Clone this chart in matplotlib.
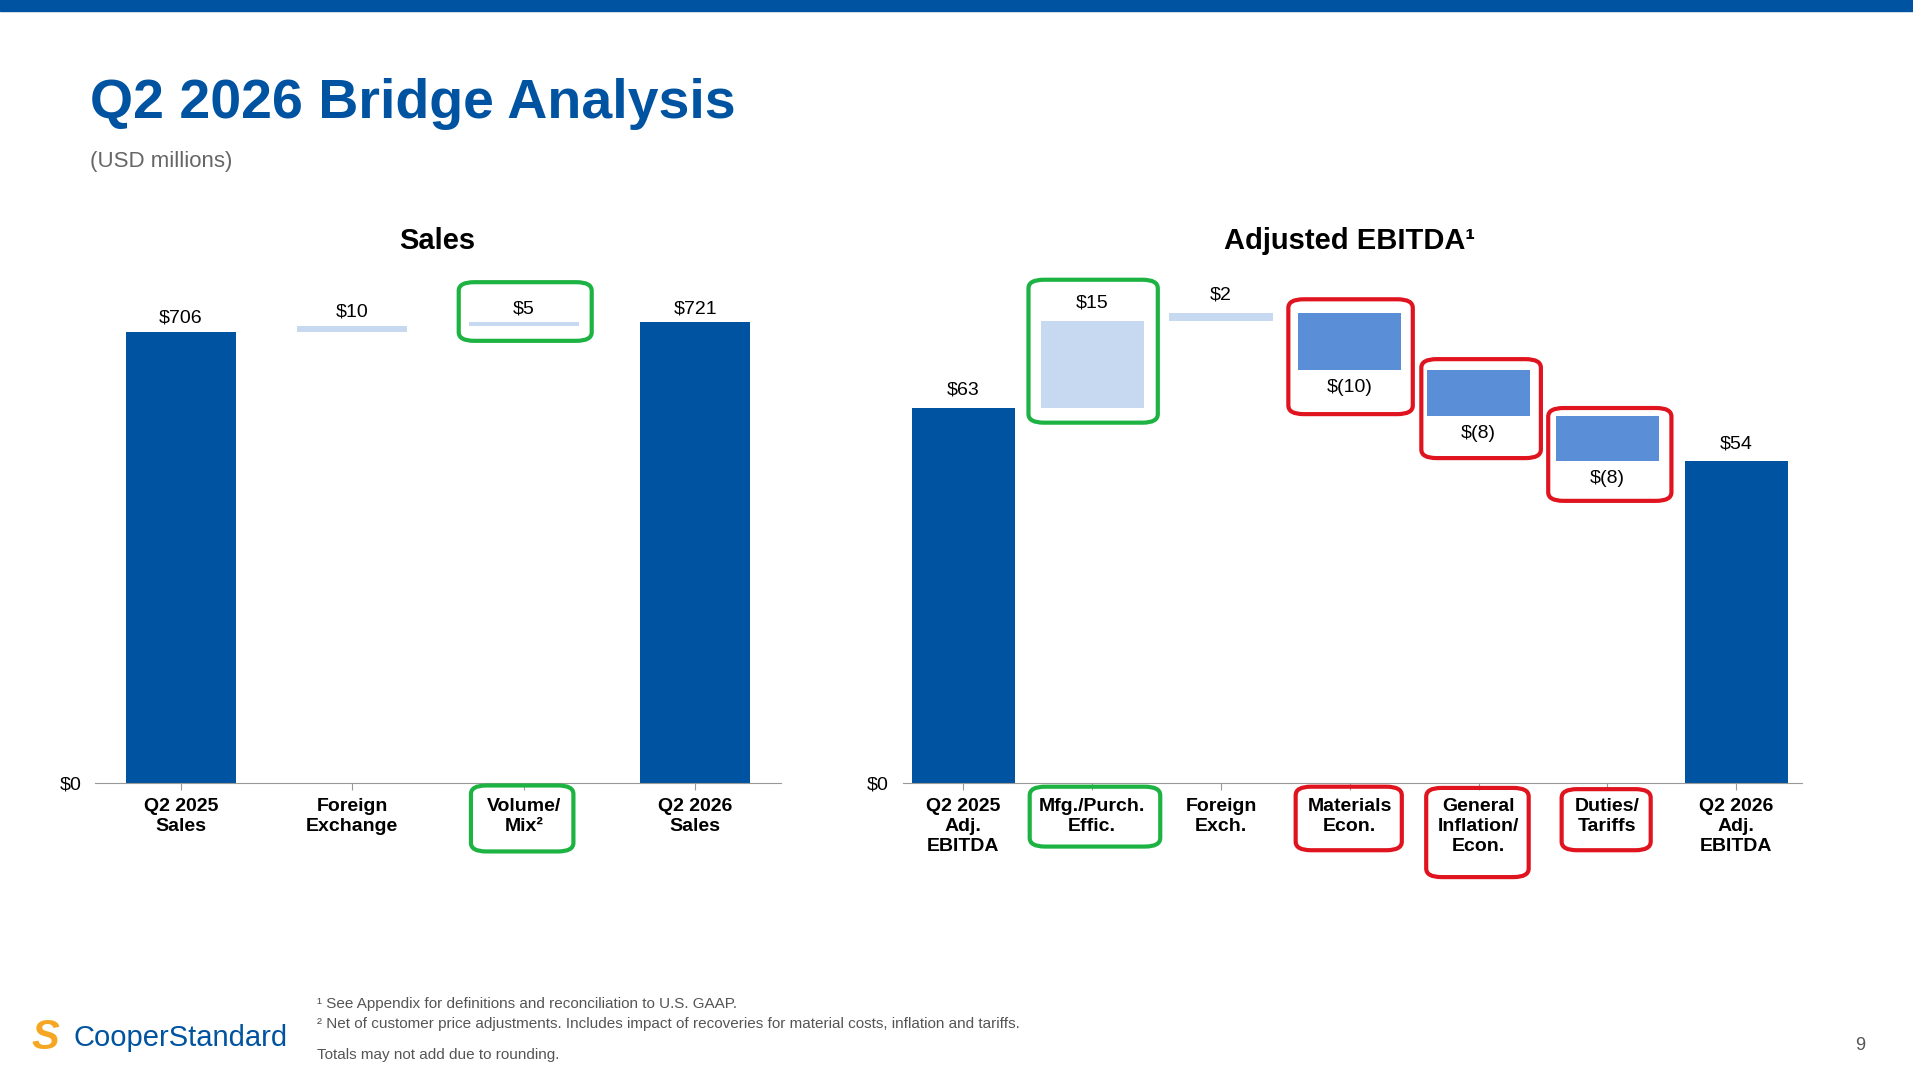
import matplotlib.pyplot as plt
from matplotlib.patches import FancyBboxPatch, Rectangle

plt.rcParams['font.family'] = ['Liberation Sans', 'DejaVu Sans']

DARK = '#0053A0'
LIGHT = '#C6D9F1'
NEG = '#5A8FD8'
GREEN = '#1DB342'
RED = '#E0141E'

# Sales bridge
sales_cats = ['Q2 2025\nSales', 'Foreign\nExchange', 'Volume/\nMix²', 'Q2 2026\nSales']
sales_vals = [706, 10, 5, 721]
sales_labels = ['$706', '$10', '$5', '$721']
sales_total = [True, False, False, True]

# Adjusted EBITDA bridge
ebitda_cats = ['Q2 2025\nAdj.\nEBITDA', 'Mfg./Purch.\nEffic.', 'Foreign\nExch.', 'Materials\nEcon.',
               'General\nInflation/\nEcon.', 'Duties/\nTariffs', 'Q2 2026\nAdj.\nEBITDA']
ebitda_vals = [63.0, 14.6, 1.4, -9.6, -7.8, -7.6, 54.0]
ebitda_labels = ['$63', '$15', '$2', '$(10)', '$(8)', '$(8)', '$54']
ebitda_total = [True, False, False, False, False, False, True]

W, H = 1568, 880
fig = plt.figure(figsize=(19.13, 10.75), dpi=100)


def fx(px):
    return px / W


def fy(py):
    return 1 - py / H


# header band
fig.patches.append(Rectangle((0, fy(9)), 1, 9 / H, transform=fig.transFigure, color=DARK, zorder=0))
fig.text(fx(74), fy(85), 'Q2 2026 Bridge Analysis', fontsize=40, fontweight='bold', color=DARK, va='center')
fig.text(fx(74), fy(132), '(USD millions)', fontsize=16, color='#666666', va='center')


def waterfall(ax, vals, labels, totals, cats, width, pad):
    run = 0
    for i, (v, lab, tot) in enumerate(zip(vals, labels, totals)):
        if tot:
            bottom, h, col = 0, v, DARK
            run = v
        else:
            bottom, h = run, v
            col = LIGHT if v >= 0 else NEG
            run = run + v
        ax.bar(i, h, bottom=bottom, width=width, color=col, zorder=2)
        if v >= 0:
            ax.text(i, bottom + h + pad, lab, ha='center', va='bottom', fontsize=14)
        else:
            ax.text(i, bottom + h - pad, lab, ha='center', va='top', fontsize=14)
    ax.set_xticks(range(len(cats)))
    ax.set_xticklabels(cats, fontsize=14, fontweight='bold', linespacing=1.2)
    ax.set_yticks([0])
    ax.set_yticklabels(['$0'], fontsize=14)
    ax.tick_params(axis='y', length=0, pad=10)
    ax.tick_params(axis='x', length=5, color='#999999', pad=6)
    for s in ['top', 'right', 'left']:
        ax.spines[s].set_visible(False)
    ax.spines['bottom'].set_color('#999999')


ax1 = fig.add_axes([fx(78), fy(641), fx(640 - 78), (641 - 230) / H])
waterfall(ax1, sales_vals, sales_labels, sales_total, sales_cats, 0.64, 8)
ax1.set_xlim(-0.5, 3.5)
ax1.set_ylim(0, 786)

ax2 = fig.add_axes([fx(740), fy(641), fx(1477 - 740), (641 - 230) / H])
waterfall(ax2, ebitda_vals, ebitda_labels, ebitda_total, ebitda_cats, 0.8, 1.5)
ax2.set_xlim(-0.47, 6.51)
ax2.set_ylim(0, 84.3)

fig.text(fx(358), fy(197), 'Sales', fontsize=21, fontweight='bold', ha='center', va='center')
fig.text(fx(1106), fy(197), 'Adjusted EBITDA¹', fontsize=21, fontweight='bold', ha='center', va='center')

# highlight boxes
boxes = [
    ((376, 231, 485, 279), GREEN), ((386, 643, 470, 697), GREEN),
    ((843, 229, 949, 346), GREEN), ((844, 644, 951, 693), GREEN),
    ((1056, 245, 1158, 339), RED), ((1062, 644, 1149, 696), RED),
    ((1165, 294, 1263, 375), RED), ((1169, 645, 1253, 718), RED),
    ((1269, 334, 1370, 410), RED), ((1280, 646, 1353, 696), RED),
]
for (x0, y0, x1, y1), c in boxes:
    fig.patches.append(FancyBboxPatch((fx(x0), fy(y1)), fx(x1 - x0), (y1 - y0) / H,
                                      boxstyle='round,pad=0,rounding_size=0.008',
                                      transform=fig.transFigure, fill=False, ec=c, lw=3, zorder=5))

# footnotes
fig.text(fx(260), fy(822), '¹ See Appendix for definitions and reconciliation to U.S. GAAP.', fontsize=11, color='#555555', va='center')
fig.text(fx(260), fy(838), '² Net of customer price adjustments. Includes impact of recoveries for material costs, inflation and tariffs.',
         fontsize=11, color='#555555', va='center')
fig.text(fx(260), fy(864), 'Totals may not add due to rounding.', fontsize=11, color='#555555', va='center')
fig.text(fx(1525), fy(856), '9', fontsize=13, color='#555555', ha='center', va='center')
fig.text(fx(26), fy(850), 'S', fontsize=30, color='#F5A623', fontweight='bold', va='center', style='italic')
fig.text(fx(60), fy(850), 'CooperStandard', fontsize=21, color=DARK, va='center')

fig.savefig('out.png', dpi=100)
